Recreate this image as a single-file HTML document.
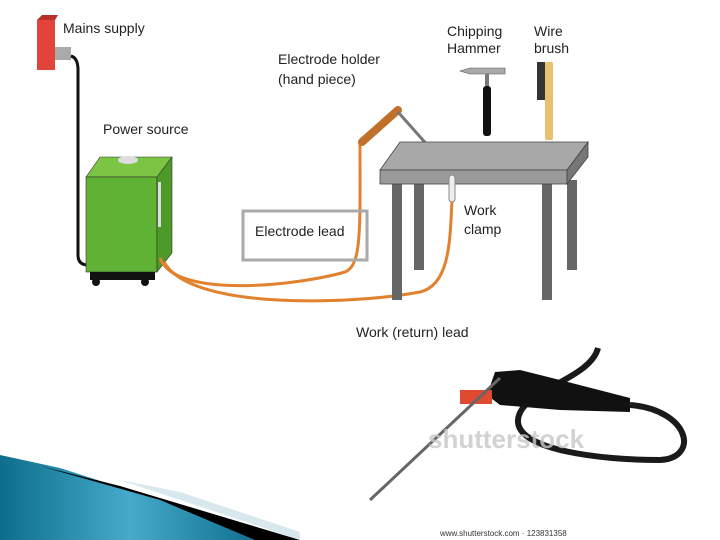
<!DOCTYPE html>
<html><head><style>body{margin:0;background:#fff}svg{display:block}text{font-family:"Liberation Sans",sans-serif;fill:#222}</style></head><body>
<svg width="720" height="540" viewBox="0 0 720 540">
<defs><linearGradient id="t" x1="0" y1="0" x2="1" y2="0"><stop offset="0" stop-color="#0d6e8c"/><stop offset=".5" stop-color="#45aacb"/><stop offset="1" stop-color="#0f6e8c"/></linearGradient></defs>
<!-- mains -->
<rect x="37" y="20" width="18" height="50" fill="#e2433a"/>
<polygon points="37,20 42,15 58,15 55,20" fill="#b83028"/>
<rect x="55" y="47" width="16" height="13" fill="#aaa"/>
<path d="M71,56 Q78,58 78,70 L78,255 Q78,265 88,265" stroke="#111" stroke-width="3" fill="none"/>
<!-- power source -->
<polygon points="86,177 100,157 172,157 157,177" fill="#7cc444" stroke="#333" stroke-width=".6"/>
<rect x="86" y="177" width="71" height="95" fill="#5fb233" stroke="#333" stroke-width=".6"/>
<polygon points="157,177 172,157 172,253 157,272" fill="#4d9a28" stroke="#333" stroke-width=".6"/>
<rect x="158" y="182" width="3" height="45" fill="#ddd"/>
<ellipse cx="128" cy="160" rx="10" ry="4" fill="#ddd"/>
<rect x="90" y="272" width="65" height="8" fill="#111"/>
<circle cx="96" cy="282" r="4" fill="#111"/><circle cx="145" cy="282" r="4" fill="#111"/>
<!-- cables -->
<path d="M160,258 C175,300 300,285 345,272 C362,265 360,230 360,140" stroke="#e0822e" stroke-width="3" fill="none"/>
<path d="M164,262 C190,310 350,305 420,292 C450,285 450,240 452,200" stroke="#e0822e" stroke-width="3" fill="none"/>
<!-- electrode holder -->
<line x1="362" y1="142" x2="398" y2="110" stroke="#c0702a" stroke-width="8" stroke-linecap="round"/>
<line x1="398" y1="112" x2="430" y2="148" stroke="#777" stroke-width="3"/>
<!-- table -->
<rect x="392" y="184" width="10" height="116" fill="#666"/>
<rect x="414" y="184" width="10" height="86" fill="#666"/>
<rect x="542" y="184" width="10" height="116" fill="#666"/>
<rect x="567" y="180" width="10" height="90" fill="#666"/>
<polygon points="380,170 400,142 588,142 567,170" fill="#a8a8a8" stroke="#444" stroke-width=".8"/>
<rect x="380" y="170" width="187" height="14" fill="#9a9a9a" stroke="#444" stroke-width=".8"/>
<polygon points="567,170 588,142 588,157 567,184" fill="#777" stroke="#444" stroke-width=".8"/>
<rect x="449" y="175" width="6" height="27" rx="3" fill="#eee" stroke="#888"/>
<!-- hammer & brush -->
<polygon points="460,71 470,68 505,68 505,74 470,74" fill="#aaa" stroke="#555" stroke-width=".6"/>
<rect x="485" y="74" width="4" height="12" fill="#777"/>
<rect x="483" y="86" width="8" height="50" rx="3" fill="#111"/>
<rect x="537" y="62" width="8" height="38" fill="#333"/>
<rect x="545" y="62" width="8" height="78" rx="2" fill="#e8c070"/>
<!-- electrode lead box -->
<rect x="243" y="211" width="124" height="49" fill="none" stroke="#aaa" stroke-width="3"/>
<!-- labels -->
<text x="63" y="33" font-size="14">Mains supply</text>
<text x="103" y="134" font-size="14">Power source</text>
<text x="278" y="64" font-size="14">Electrode holder</text>
<text x="278" y="84" font-size="14">(hand piece)</text>
<text x="447" y="36" font-size="14">Chipping</text>
<text x="447" y="53" font-size="14">Hammer</text>
<text x="534" y="36" font-size="14">Wire</text>
<text x="534" y="53" font-size="14">brush</text>
<text x="464" y="215" font-size="14">Work</text>
<text x="464" y="234" font-size="14">clamp</text>
<text x="255" y="236" font-size="14">Electrode lead</text>
<text x="356" y="337" font-size="14">Work (return) lead</text>
<!-- photo -->
<path d="M598,348 C590,380 520,390 518,420 C516,450 600,460 660,460 C700,458 690,410 630,405" stroke="#1a1a1a" stroke-width="6" fill="none"/>
<polygon points="495,372 520,370 560,380 630,398 630,412 560,410 500,405 487,395" fill="#111"/>
<rect x="460" y="390" width="32" height="14" fill="#e04a30"/>
<line x1="370" y1="500" x2="500" y2="378" stroke="#666" stroke-width="3"/>
<text x="428" y="448" font-size="26" font-weight="bold" style="fill:#c8c8c8;opacity:.8">shutterstock</text>
<text x="440" y="536" font-size="8" style="fill:#333">www.shutterstock.com · 123831358</text>
<!-- swoosh -->
<polygon points="0,455 60,468 160,500 260,540 0,540" fill="url(#t)"/>
<polygon points="40,466 120,486 300,540 255,540 160,500" fill="#000"/>
<polygon points="120,480 300,540 300,532 180,492" fill="#d8e8ee"/>
</svg>
</body></html>
